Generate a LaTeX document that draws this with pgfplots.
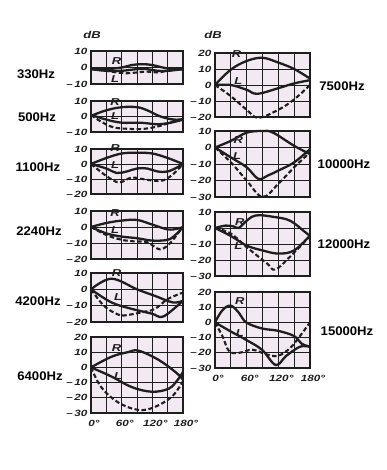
\documentclass[border=0pt]{standalone}
\usepackage{fontspec}
\setmainfont{Liberation Sans}
\newfontfamily\tickfont[FakeStretch=1.3]{Liberation Sans}
\newfontfamily\freqfont[FakeStretch=1.05]{Liberation Sans}
\usepackage{pgfplots}
\pgfplotsset{compat=1.18}
\definecolor{panelbg}{RGB}{243,233,243}
\definecolor{ink}{RGB}{30,30,30}
\tikzset{lab/.style={font=\tickfont\bfseries\itshape\fontsize{10}{10}\selectfont, color=ink, inner sep=0pt}}
\pgfplotsset{
  panel/.style={
    scale only axis, anchor=north west,
    xmin=0, xmax=180,
    xtick={0,60,120,180}, minor xtick={30,90,150},
    xticklabels={},
    ytick distance=10,
    grid=both,
    major grid style={line width=0.95pt, color=ink},
    minor grid style={line width=0.95pt, color=ink},
    axis line style={line width=1.4pt, color=ink},
    axis background/.style={fill=panelbg},
    major tick length=0pt, minor tick length=0pt,
    /pgf/number format/assume math mode=true,
    yticklabel={\pgfmathtruncatemacro\tv{\tick}\ifnum\tv<0 –\,\the\numexpr-\tv\relax\else\tv\fi},
    yticklabel style={font=\tickfont\bfseries\itshape\fontsize{9}{9}\selectfont, color=ink, xshift=0pt},
    xticklabel style={font=\tickfont\bfseries\itshape\fontsize{9}{9}\selectfont, color=ink, xshift=3pt, yshift=-4pt},
    clip=false,
  },
  cr/.style={smooth, tension=0.6, line width=2.3pt, color=ink},
  cd/.style={smooth, tension=0.6, line width=2.1pt, color=ink, dash pattern=on 4.5pt off 2.5pt},
}
\newcommand{\freq}[3]{\node[font=\freqfont\bfseries\fontsize{12.5}{12.5}\selectfont, color=black] at (#1pt,#2pt) {#3};}
\begin{document}
\begin{tikzpicture}
\useasboundingbox (0,0) rectangle (386pt,470pt);
% ---------------- left column ----------------
\begin{axis}[panel, at={(91pt,419pt)}, width=92pt, height=33pt, ymin=-10, ymax=10]
\addplot[cr] coordinates {(0,-0.5)(30,-1)(60,0)(80,1.5)(100,2)(120,1.5)(140,0)(160,-1)(180,-1)};
\addplot[cr] coordinates {(0,-1)(30,-2)(60,-2)(90,-1)(110,-1)(130,-2)(150,-2)(180,-1)};
\addplot[cd] coordinates {(0,-1)(30,-2)(50,-3)(70,-3.5)(90,-3)(110,-2.5)(130,-3)(150,-2)(180,-1)};
\node[lab] at (axis cs:50,4) {R};
\node[lab] at (axis cs:47,-7) {L};
\end{axis}
\begin{axis}[panel, at={(91pt,369pt)}, width=92pt, height=31pt, ymin=-10, ymax=10]
\addplot[cr] coordinates {(0,0.4)(30,4)(60,6)(90,6)(110,4)(136,0)(162,-2)(180,-1.7)};
\addplot[cr] coordinates {(0,1)(30,-2)(60,-4)(97,-4)(130,-5)(156,-4)(180,-2)};
\addplot[cd] coordinates {(0,1)(18,-3)(44,-7)(77,-8)(103,-8)(136,-6)(162,-3)(180,-2)};
\node[lab] at (axis cs:47,9.5) {R};
\node[lab] at (axis cs:47,0.5) {L};
\end{axis}
\begin{axis}[panel, at={(91pt,321pt)}, width=92pt, height=45pt, ymin=-20, ymax=10]
\addplot[cr] coordinates {(0,0)(30,4)(60,7)(90,7.5)(120,7)(150,4)(180,0)};
\addplot[cr] coordinates {(0,0)(30,-3)(50,-6)(70,-5)(90,-3)(110,-3)(130,-5)(150,-5)(170,-2)(180,0)};
\addplot[cd] coordinates {(0,0)(30,-8)(50,-12)(60,-12)(80,-9)(100,-10)(120,-11)(140,-11)(160,-7)(180,0)};
\node[lab] at (axis cs:47,10.3) {R};
\node[lab] at (axis cs:47,-1) {L};
\end{axis}
\begin{axis}[panel, at={(91pt,259pt)}, width=92pt, height=48pt, ymin=-20, ymax=10]
\addplot[cr] coordinates {(0,0)(30,2.5)(60,4)(90,4.4)(120,1.5)(150,-1.5)(170,-1)(180,0)};
\addplot[cr] coordinates {(0,0)(30,-4)(60,-6)(90,-7)(120,-8.5)(150,-8)(165,-5)(180,0)};
\addplot[cd] coordinates {(0,0)(30,-5)(60,-8)(85,-9)(110,-9.5)(135,-14)(155,-10)(170,-4)(180,0)};
\node[lab] at (axis cs:47,8.5) {R};
\node[lab] at (axis cs:47,-2) {L};
\end{axis}
\begin{axis}[panel, at={(91pt,197pt)}, width=92pt, height=49pt, ymin=-20, ymax=10]
\addplot[cr] coordinates {(0,0)(40,6.5)(90,0)(125,-4)(160,-8)(180,-7)};
\addplot[cr] coordinates {(0,0)(40,-8)(80,-12)(120,-15)(135,-17)(150,-15)(180,-7)};
\addplot[cd] coordinates {(0,0)(25,-10)(50,-15)(65,-16)(100,-14)(125,-12)(150,-6)(180,-2)};
\node[lab] at (axis cs:50,10) {R};
\node[lab] at (axis cs:53,-5) {L};
\end{axis}
\begin{axis}[panel, at={(91pt,133pt)}, width=92pt, height=76pt, ymin=-30, ymax=20,
  xticklabels={0°,60°,120°,180°}]
\addplot[cr] coordinates {(0,0)(40,7)(72,10)(93,11)(132,5)(165,-3)(180,-8)};
\addplot[cr] coordinates {(0,0)(40,-6)(80,-13)(119,-16)(152,-14)(170,-8)(180,-3)};
\addplot[cd] coordinates {(0,0)(20,-13)(53,-23)(93,-28)(125,-26)(159,-19)(180,-9)};
\node[lab] at (axis cs:50,13) {R};
\node[lab] at (axis cs:53,-5.5) {L};
\end{axis}
% ---------------- right column ----------------
\begin{axis}[panel, at={(215pt,417pt)}, width=95pt, height=64pt, ymin=-20, ymax=20]
\addplot[cr] coordinates {(0,0)(30,9.6)(60,15)(90,17)(120,14)(150,10)(180,4)};
\addplot[cr] coordinates {(0,0)(30,0)(60,-3)(80,-5.5)(120,-2)(150,1)(180,3)};
\addplot[cd] coordinates {(0,0)(30,-7)(60,-15.5)(82,-20.5)(120,-15.5)(150,-9)(180,0)};
\node[lab] at (axis cs:41,19.5) {R};
\node[lab] at (axis cs:44,2.5) {L};
\end{axis}
\begin{axis}[panel, at={(215pt,339pt)}, width=95pt, height=66pt, ymin=-30, ymax=10]
\addplot[cr] coordinates {(0,0)(30,4)(60,9)(90,10)(110,9)(150,1)(180,-4)};
\addplot[cr] coordinates {(0,0)(30,-6)(60,-12)(82,-19)(100,-17)(120,-14)(150,-9)(180,-1)};
\addplot[cd] coordinates {(0,0)(30,-9)(60,-20)(90,-30)(120,-22)(150,-12)(180,-3)};
\node[lab] at (axis cs:44,4.5) {R};
\node[lab] at (axis cs:42,-5) {L};
\end{axis}
\begin{axis}[panel, at={(215pt,258pt)}, width=95pt, height=64pt, ymin=-30, ymax=10]
\addplot[cr] coordinates {(0,0)(20,1.5)(35,1)(45,0)(55,3)(70,7)(85,8)(110,7)(135,5.5)(150,3)(165,-1)(180,-5)};
\addplot[cr] coordinates {(0,0)(30,-5)(60,-11)(90,-14)(120,-16)(150,-14)(180,-4.7)};
\addplot[cd] coordinates {(0,0)(30,-3.5)(60,-12)(98,-22)(114,-26)(142,-18)(180,-5)};
\node[lab] at (axis cs:47,3.5) {R};
\node[lab] at (axis cs:44,-11) {L};
\end{axis}
\begin{axis}[panel, at={(215pt,178pt)}, width=95pt, height=76pt, ymin=-30, ymax=20,
  xticklabels={0°,60°,120°,180°}]
\addplot[cr] coordinates {(0,0)(14,8)(30,11)(46,6)(59,0)(89,-4)(119,-5.5)(150,-9)(164,-14)(180,-16)};
\addplot[cr] coordinates {(0,0)(30,-6)(59,-11.5)(89,-18)(115,-28)(135,-22)(161,-16)(180,-16)};
\addplot[cd] coordinates {(0,0)(14,-9)(27,-19)(46,-20)(71,-18)(97,-21)(119,-22)(142,-17)(161,-9)(180,0)};
\node[lab] at (axis cs:47,14) {R};
\node[lab] at (axis cs:47,-7) {L};
\end{axis}
% ---------------- labels ----------------
\node[lab] at (92pt,435pt) {dB};
\node[lab] at (213pt,435pt) {dB};
\freq{36}{396}{330Hz}
\freq{37}{353}{500Hz}
\freq{38}{303}{1100Hz}
\freq{39}{239}{2240Hz}
\freq{38}{169}{4200Hz}
\freq{40}{94}{6400Hz}
\freq{342}{384}{7500Hz}
\freq{344}{306}{10000Hz}
\freq{344}{226}{12000Hz}
\freq{347}{139}{15000Hz}
\end{tikzpicture}
\end{document}
